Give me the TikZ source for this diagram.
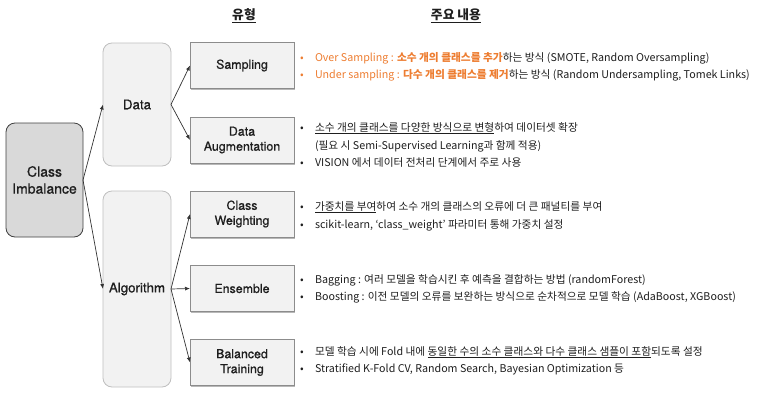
\documentclass[tikz,border=0pt]{standalone}
\usepackage{fontspec}
\setmainfont{Noto Sans CJK KR}
\newfontfamily\hv[FakeBold=0.7]{TeX Gyre Heros}
\usetikzlibrary{arrows.meta,shadows}
\definecolor{org}{HTML}{ED7D31}
\definecolor{txt}{HTML}{1E1E1E}
\newcommand{\bl}[2][txt]{\makebox[15pt][l]{\textcolor{#1}{•}}#2}
\begin{document}
\begin{tikzpicture}[x=1pt,y=-1pt,
  every node/.style={inner sep=0pt,outer sep=0pt,text=txt},
  cibox/.style={draw=black!75,fill=black!15,rounded corners=9pt,line width=0.8pt,minimum width=77pt,minimum height=114pt,align=center,font=\hv\fontsize{14}{17}\selectfont},
  midbox/.style={draw=black!25,fill=black!5,rounded corners=9pt,line width=0.8pt,minimum width=68pt,align=center,font=\hv\fontsize{13.3}{16}\selectfont},
  typebox/.style={draw=black!45,fill=black!5,line width=0.6pt,minimum width=104pt,minimum height=46pt,align=center,font=\hv\fontsize{12.4}{15}\selectfont,drop shadow={shadow xshift=1.2pt,shadow yshift=-1.5pt,fill=black!35,opacity=0.8}},
  conn/.style={draw=black!80,line width=0.7pt,-{Latex[length=5pt,width=4pt]}},
  desc/.style={anchor=base west,font=\fontsize{10.7}{12}\selectfont},
  head/.style={font=\bfseries\fontsize{12.8}{15}\selectfont}]
\useasboundingbox (0,0) rectangle (760,407);
% headers
\node[head] (h1) at (244,16) {\underline{유형}};
\node[head] (h2) at (456,16) {\underline{주요 내용}};
% boxes
\node[cibox] (ci) at (44.5,180) {Class\\Imbalance};
\node[midbox,minimum height=123pt] (data) at (137,104.5) {Data};
\node[midbox,minimum height=196pt] (alg) at (137,289) {Algorithm};
\node[typebox] (samp) at (242,65.5) {Sampling};
\node[typebox] (aug) at (242,140) {Data\\Augmentation};
\node[typebox] (cw) at (242,214) {Class\\Weighting};
\node[typebox] (ens) at (242,288.5) {Ensemble};
\node[typebox] (bt) at (242,362.5) {Balanced\\Training};
% connectors
\draw[conn] (ci.east) -- (data.west);
\draw[conn] (ci.east) -- (alg.west);
\draw[conn] (data.east) -- (samp.west);
\draw[conn] (data.east) -- (aug.west);
\draw[conn] (alg.east) -- (cw.west);
\draw[conn] (alg.east) -- (ens.west);
\draw[conn] (alg.east) -- (bt.west);
% descriptions
\node[desc] (t1) at (300,61) {\bl[org]{\textcolor{org}{Over Sampling : \textbf{소수 개의 클래스를 추가}}하는 방식 (SMOTE, Random Oversampling)}};
\node[desc] (t2) at (300,78) {\bl[org]{\textcolor{org}{Under sampling : \textbf{다수 개의 클래스를 제거}}하는 방식 (Random Undersampling, Tomek Links)}};
\node[desc] (t3) at (300,131) {\bl{\underline{소수 개의 클래스를 다양한 방식으로 변형}하여 데이터셋 확장}};
\node[desc] (t4) at (315,149) {(필요 시 Semi-Supervised Learning과 함께 적용)};
\node[desc] (t5) at (300,166) {\bl{VISION 에서 데이터 전처리 단계에서 주로 사용}};
\node[desc] (t6) at (300,210) {\bl{\underline{가중치를 부여}하여 소수 개의 클래스의 오류에 더 큰 패널티를 부여}};
\node[desc] (t7) at (300,228) {\bl{scikit-learn, ‘class\_weight’ 파라미터 통해 가중치 설정}};
\node[desc] (t8) at (300,283) {\bl{Bagging : 여러 모델을 학습시킨 후 예측을 결합하는 방법 (randomForest)}};
\node[desc] (t9) at (300,300) {\bl{Boosting : 이전 모델의 오류를 보완하는 방식으로 순차적으로 모델 학습 (AdaBoost, XGBoost)}};
\node[desc] (t10) at (300,355) {\bl{모델 학습 시에 Fold 내에 \underline{동일한 수의 소수 클래스와 다수 클래스 샘플이 포함}되도록 설정}};
\node[desc] (t11) at (300,372) {\bl{Stratified K-Fold CV, Random Search, Bayesian Optimization 등}};
\end{tikzpicture}
\end{document}
